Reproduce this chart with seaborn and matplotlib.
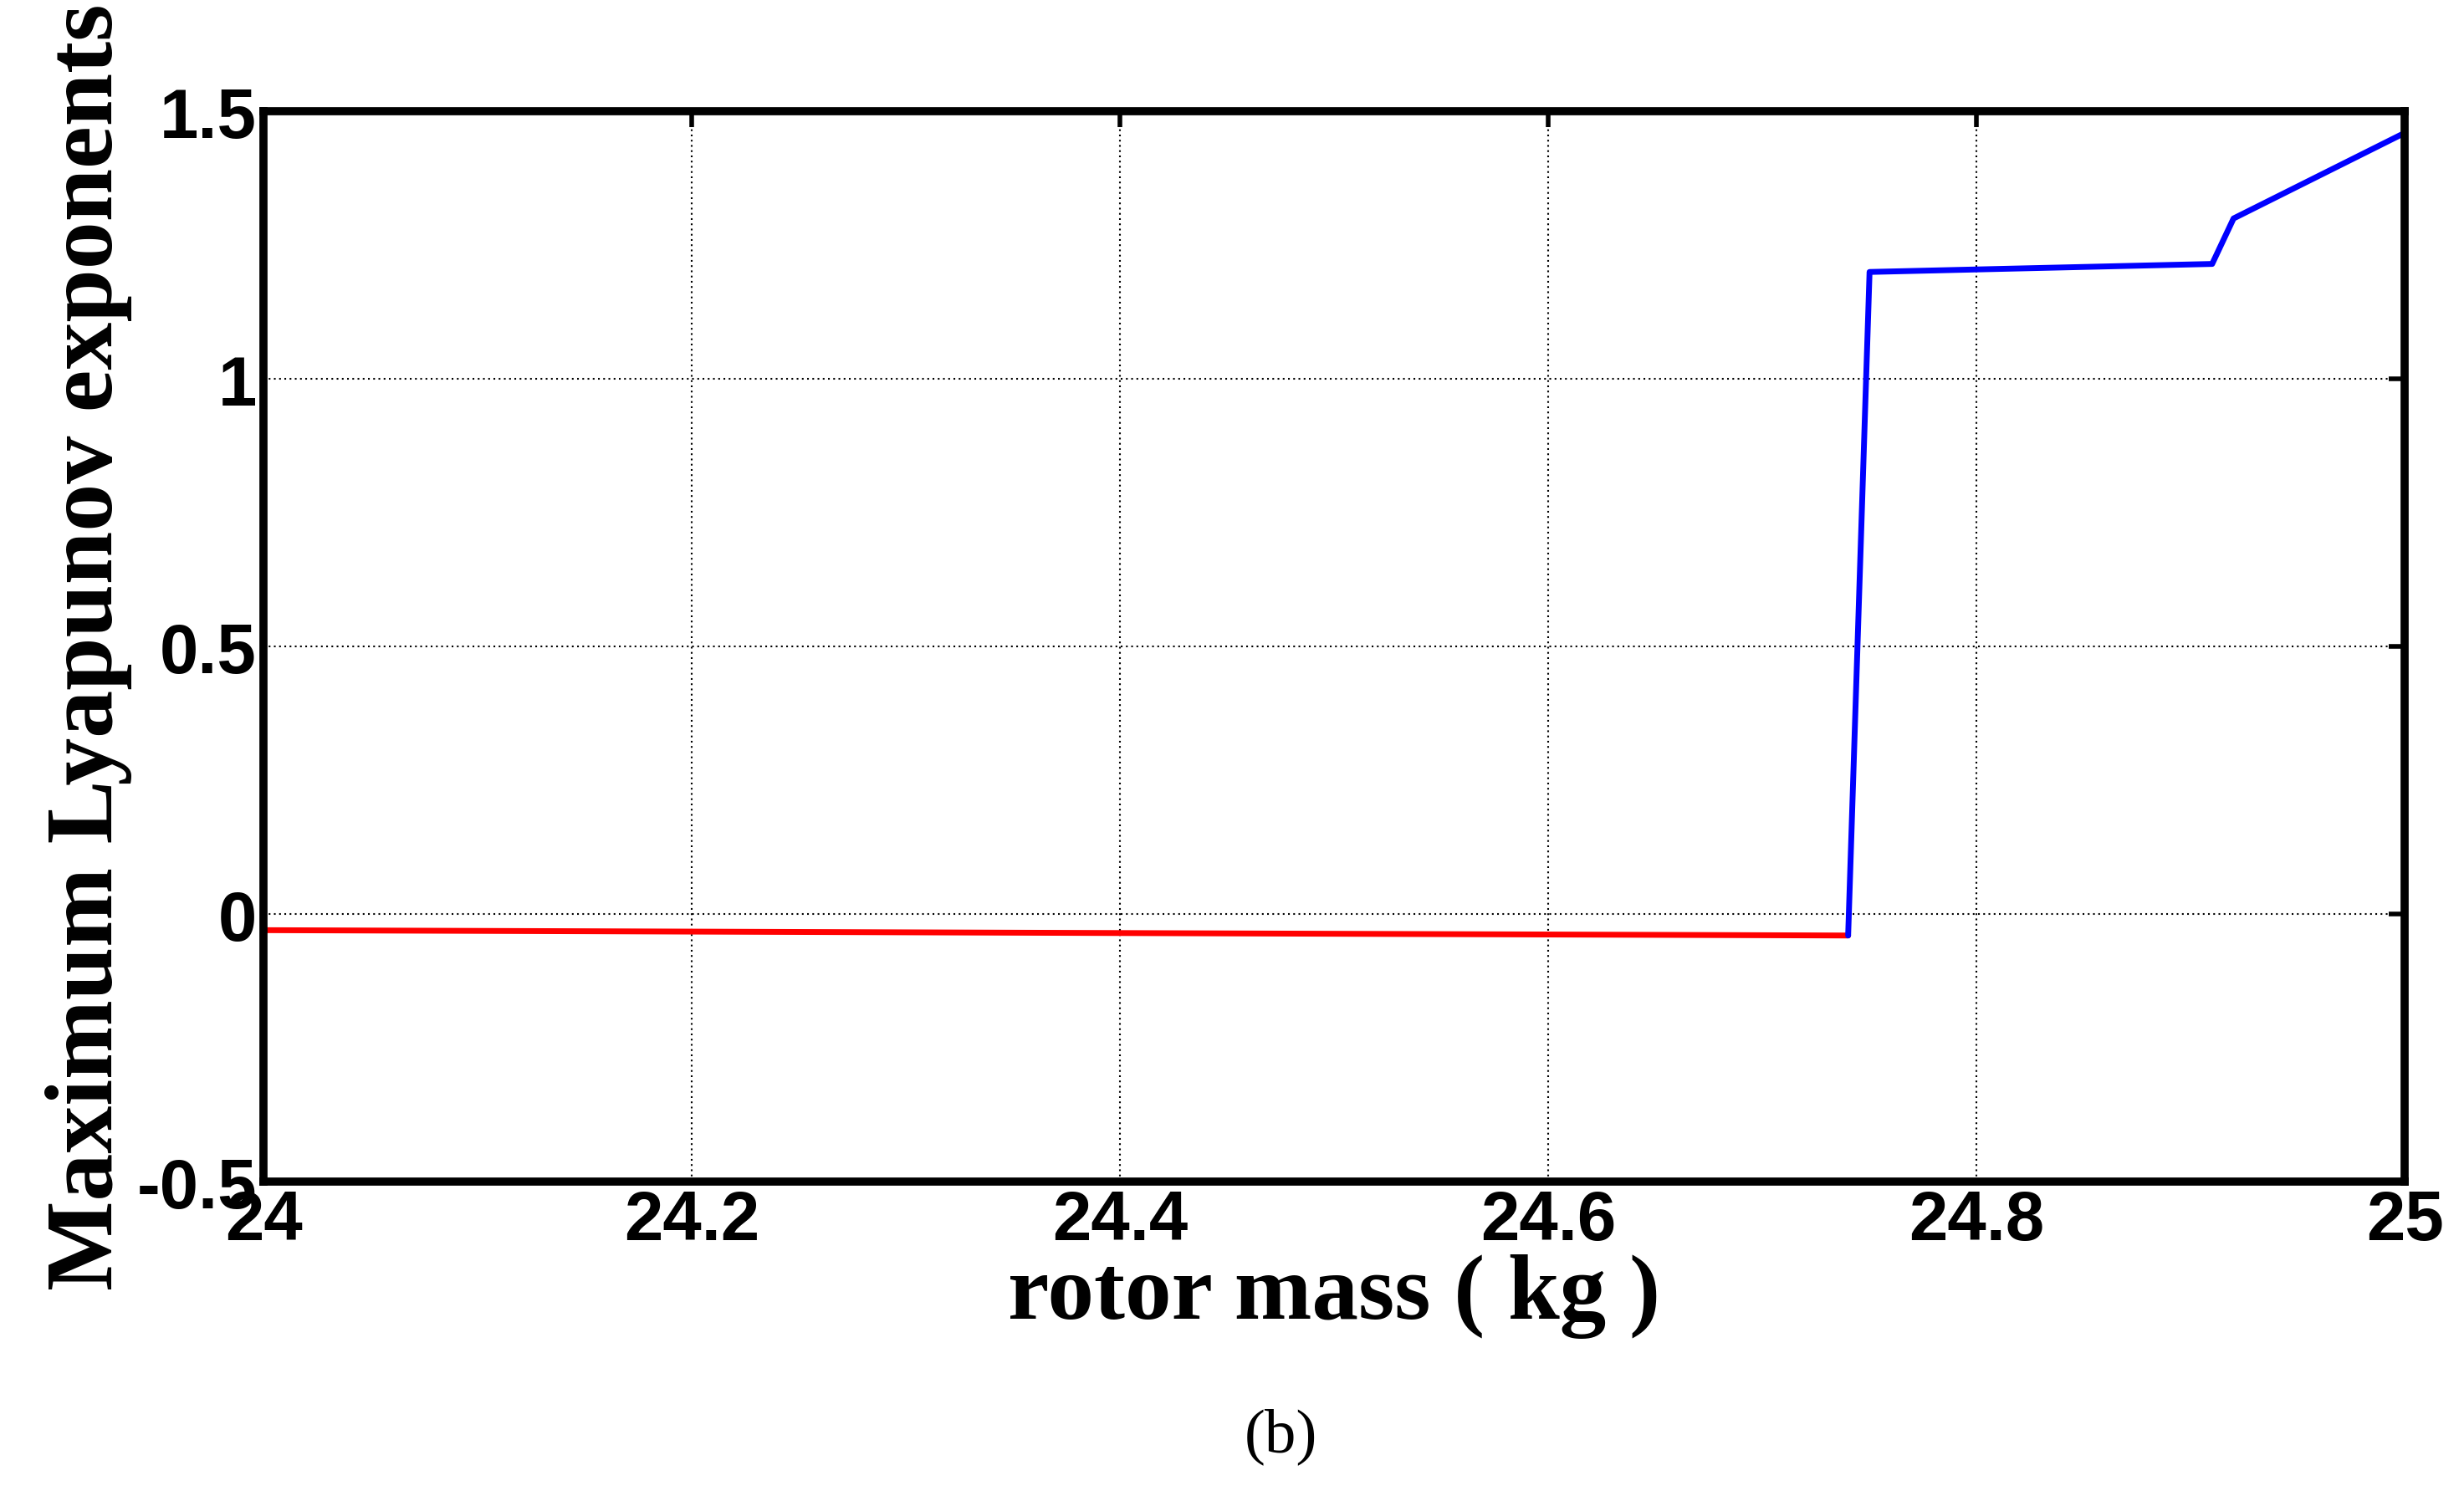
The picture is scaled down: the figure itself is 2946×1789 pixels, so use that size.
import matplotlib
matplotlib.use("Agg")
import matplotlib.pyplot as plt
import seaborn as sns
import pandas as pd

sns.set_theme(style="white")
plt.rcParams["text.color"] = "black"
plt.rcParams["axes.labelcolor"] = "black"

red_mass = [24.0, 24.74]
red_lle = [-0.03, -0.04]
blue_mass = [24.74, 24.75, 24.91, 24.92, 25.0]
blue_lle = [-0.04, 1.2, 1.215, 1.3, 1.46]
xticks = [24, 24.2, 24.4, 24.6, 24.8, 25]
xticklabels = ["24", "24.2", "24.4", "24.6", "24.8", "25"]
yticks = [-0.5, 0, 0.5, 1, 1.5]
yticklabels = ["-0.5", "0", "0.5", "1", "1.5"]

fig = plt.figure(figsize=(29.46, 17.90), dpi=100)
ax = fig.add_axes([0.107, 0.21, 0.869, 0.715])
sns.lineplot(data=pd.DataFrame({"x": red_mass, "y": red_lle}), x="x", y="y", ax=ax, color="#ff0000", lw=5)
sns.lineplot(data=pd.DataFrame({"x": blue_mass, "y": blue_lle}), x="x", y="y", ax=ax, color="#0000ff", lw=5)
ax.set_xlim(24, 25)
ax.set_ylim(-0.5, 1.5)
ax.set_xticks(xticks)
ax.set_xticklabels(xticklabels)
ax.set_yticks(yticks)
ax.set_yticklabels(yticklabels)
tf = dict(family="Liberation Sans", weight="bold", size=60)
for t in ax.get_xticklabels() + ax.get_yticklabels():
    t.set_fontproperties(matplotlib.font_manager.FontProperties(**tf))
    t.set_color("black")
ax.tick_params(direction="in", length=14, width=4, top=True, right=True, colors="black", pad=6)
ax.grid(True, color="black", linestyle=(0, (1, 2)), linewidth=1.5)
for s in ax.spines.values():
    s.set_linewidth(7)
    s.set_color("black")
ax.set_xlabel("rotor mass ( kg )", family="Liberation Serif", weight="bold", size=80, labelpad=0, color="black")
ax.set_ylabel("Maximum Lyapunov exponents", family="Liberation Serif", weight="bold", size=82, labelpad=4, color="black")
fig.text(0.52, 0.03, "(b)", family="Liberation Serif", size=54, ha="center", color="black")
fig.savefig("out.png", dpi=100, facecolor="white")
